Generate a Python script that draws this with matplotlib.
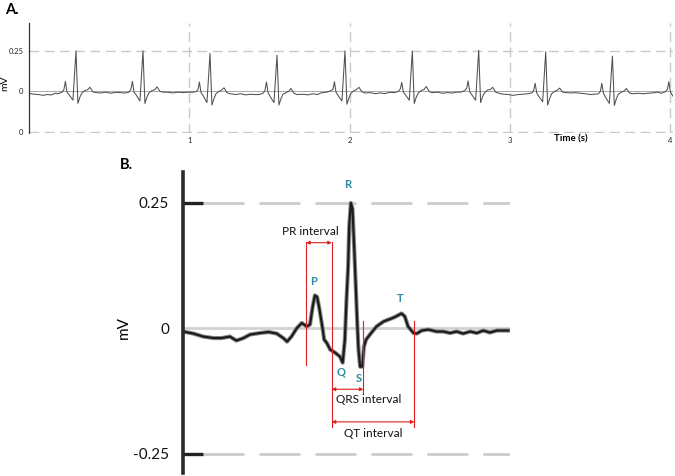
import matplotlib
matplotlib.use('Agg')
import matplotlib.pyplot as plt

plt.rcParams['font.family'] = ['Lato', 'DejaVu Sans']
plt.rcParams['lines.scale_dashes'] = False

# ---------------- Panel A data (time in s, voltage in mV) ----------------
ecg_a_time = [
    0.000, 0.030, 0.060, 0.090, 0.110, 0.140, 0.165,
    0.181, 0.206, 0.218, 0.227, 0.237, 0.249, 0.274, 0.293, 0.305, 0.318, 0.330, 0.349, 0.366, 0.380, 0.399, 0.418, 0.450, 0.480, 0.510, 0.540, 0.570,
    0.599, 0.624, 0.636, 0.645, 0.655, 0.667, 0.692, 0.711, 0.723, 0.736, 0.748, 0.767, 0.784, 0.798, 0.817, 0.836, 0.870, 0.900, 0.930, 0.960, 0.990,
    1.017, 1.042, 1.054, 1.063, 1.073, 1.085, 1.110, 1.129, 1.141, 1.154, 1.166, 1.185, 1.202, 1.216, 1.235, 1.254, 1.290, 1.320, 1.350, 1.380, 1.410,
    1.435, 1.460, 1.472, 1.481, 1.491, 1.503, 1.528, 1.547, 1.559, 1.572, 1.584, 1.603, 1.620, 1.634, 1.653, 1.672, 1.710, 1.740, 1.770, 1.800, 1.820,
    1.859, 1.884, 1.896, 1.905, 1.915, 1.927, 1.952, 1.971, 1.983, 1.996, 2.008, 2.027, 2.044, 2.058, 2.077, 2.096, 2.130, 2.160, 2.190, 2.220, 2.250,
    2.279, 2.304, 2.316, 2.325, 2.335, 2.347, 2.372, 2.391, 2.403, 2.416, 2.428, 2.447, 2.464, 2.478, 2.497, 2.516, 2.550, 2.580, 2.610, 2.640, 2.670,
    2.693, 2.718, 2.730, 2.739, 2.749, 2.761, 2.786, 2.805, 2.817, 2.830, 2.842, 2.861, 2.878, 2.892, 2.911, 2.930, 2.960, 2.990, 3.020, 3.050, 3.080,
    3.111, 3.136, 3.148, 3.157, 3.167, 3.179, 3.204, 3.223, 3.235, 3.248, 3.260, 3.279, 3.296, 3.310, 3.329, 3.348, 3.380, 3.410, 3.440, 3.470, 3.500,
    3.527, 3.552, 3.564, 3.573, 3.583, 3.595, 3.620, 3.639, 3.651, 3.664, 3.676, 3.695, 3.712, 3.726, 3.745, 3.764, 3.800, 3.830, 3.860, 3.890, 3.920,
    3.945, 3.970, 3.982, 3.991, 4.001, 4.017,
]
ecg_a_mv = [
    -0.012, -0.018, -0.020, -0.025, -0.020, -0.022, -0.012,
    -0.015, -0.005, 0.012, 0.062, -0.005, -0.020, -0.055, 0.252, -0.075, -0.035, -0.010, 0.005, 0.010, 0.025, -0.003, -0.008, -0.010, -0.005, -0.012, -0.006, -0.008,
    -0.010, -0.005, 0.015, 0.062, -0.005, -0.020, -0.060, 0.252, -0.075, -0.035, -0.010, 0.005, 0.010, 0.028, 0.000, -0.005, -0.006, -0.010, -0.005, -0.008, -0.005,
    -0.006, -0.002, 0.010, 0.058, -0.008, -0.025, -0.070, 0.236, -0.085, -0.045, -0.015, 0.000, 0.008, 0.022, -0.008, -0.015, -0.020, -0.015, -0.022, -0.018, -0.020,
    -0.020, -0.012, 0.005, 0.058, -0.008, -0.030, -0.070, 0.225, -0.085, -0.045, -0.018, -0.008, 0.000, 0.018, -0.012, -0.020, -0.018, -0.022, -0.015, -0.020, -0.010,
    -0.005, 0.005, 0.012, 0.060, -0.005, -0.025, -0.060, 0.252, -0.080, -0.040, -0.012, 0.005, 0.012, 0.025, -0.003, -0.010, -0.008, -0.015, -0.010, -0.014, -0.006,
    -0.008, 0.000, 0.015, 0.055, -0.005, -0.020, -0.055, 0.250, -0.075, -0.035, -0.010, 0.005, 0.012, 0.030, -0.002, -0.008, -0.005, -0.012, -0.008, -0.010, -0.005,
    -0.005, 0.005, 0.018, 0.065, -0.002, -0.020, -0.055, 0.256, -0.070, -0.030, -0.008, 0.008, 0.012, 0.025, -0.005, -0.012, -0.018, -0.020, -0.025, -0.020, -0.018,
    -0.015, -0.010, 0.005, 0.050, -0.010, -0.030, -0.065, 0.246, -0.085, -0.045, -0.015, 0.000, 0.008, 0.020, -0.005, -0.008, -0.010, -0.008, -0.012, -0.015, -0.020,
    -0.018, -0.015, 0.000, 0.050, -0.012, -0.035, -0.075, 0.219, -0.088, -0.045, -0.018, -0.005, 0.002, 0.018, -0.010, -0.015, -0.012, -0.015, -0.012, -0.010, -0.005,
    -0.012, -0.002, 0.012, 0.060, -0.005, -0.030,
]
a_xticks = [1, 2, 3, 4]
a_xticklabels = ['1', '2', '3', '4']
a_yticks = [-0.25, 0, 0.25]
a_yticklabels = ['0', '0', '0.25']

# ---------------- Panel B data (single beat) ----------------
ecg_b_time = [
    0.000, 0.019, 0.037, 0.056, 0.071, 0.086, 0.098, 0.111, 0.123, 0.141, 0.157, 0.172,
    0.184, 0.191, 0.199, 0.209, 0.218, 0.227, 0.233, 0.238, 0.242, 0.246, 0.250, 0.253,
    0.256, 0.259, 0.264, 0.270, 0.279, 0.288, 0.293, 0.297, 0.300, 0.303, 0.305, 0.308,
    0.311, 0.314, 0.317, 0.320, 0.322, 0.325, 0.329, 0.332, 0.336, 0.343, 0.355, 0.368,
    0.380, 0.389, 0.401, 0.407, 0.413, 0.423, 0.429, 0.438, 0.450, 0.465, 0.478, 0.490,
    0.502, 0.514, 0.527, 0.539, 0.551, 0.563, 0.576, 0.597,
]
ecg_b_mv = [
    -0.007, -0.011, -0.017, -0.020, -0.020, -0.017, -0.025, -0.020, -0.013, -0.010, -0.008, -0.011,
    -0.020, -0.027, -0.017, 0.000, 0.010, 0.003, 0.007, 0.043, 0.065, 0.062, 0.040, 0.020,
    0.000, -0.023, -0.030, -0.043, -0.049, -0.057, -0.069, -0.023, 0.057, 0.123, 0.203, 0.249,
    0.237, 0.163, 0.083, 0.003, -0.043, -0.077, -0.077, -0.037, -0.023, -0.013, 0.003, 0.013,
    0.018, 0.022, 0.029, 0.023, 0.003, -0.010, -0.011, -0.005, -0.003, -0.007, -0.007, -0.010,
    -0.007, -0.011, -0.007, -0.010, -0.005, -0.009, -0.005, -0.005,
]
b_yticks = [-0.25, 0, 0.25]
b_yticklabels = ['-0.25', '0', '0.25']

wave_labels = ['P', 'Q', 'R', 'S', 'T']
wave_label_time = [0.240, 0.290, 0.303, 0.322, 0.398]
wave_label_mv = [0.093, -0.087, 0.285, -0.101, 0.058]

interval_names = ['PR interval', 'QRS interval', 'QT interval']
interval_start = [0.226, 0.273, 0.273]
interval_end = [0.273, 0.331, 0.4245]
interval_arrow_mv = [0.170, -0.122, -0.187]
interval_text_time = [0.233, 0.340, 0.349]
interval_text_mv = [0.193, -0.143, -0.211]
# vertical marker lines: (time, top mV, bottom mV)
marker_time = [0.226, 0.273, 0.331, 0.4245]
marker_top = [0.171, 0.171, 0.013, 0.013]
marker_bottom = [-0.073, -0.197, -0.13, -0.197]

W, H = 675, 476
fig = plt.figure(figsize=(W / 100, H / 100), dpi=100)

# ---------------- Panel A ----------------
axA = fig.add_axes([29 / W, 1 - 132.5 / H, 644 / W, 109.5 / H])
axA.set_xlim(0, 4.017)
axA.set_ylim(-0.256, 0.425)
grid_kw = dict(color='#c9c9c9', lw=1.0, dashes=(7, 4))
for x in a_xticks:
    axA.axvline(x, **grid_kw)
axA.axhline(0.25, **grid_kw)
axA.axhline(-0.25, **grid_kw)
axA.axhline(0, color='#a8a8a8', lw=0.7)
axA.plot(ecg_a_time, ecg_a_mv, color='#505050', lw=0.75)
for s in ['top', 'right', 'bottom']:
    axA.spines[s].set_visible(False)
axA.spines['left'].set_color('#333333')
axA.spines['left'].set_linewidth(0.9)
axA.set_xticks(a_xticks)
axA.set_xticklabels(a_xticklabels)
axA.set_yticks(a_yticks)
axA.set_yticklabels(a_yticklabels)
axA.tick_params(axis='both', length=0, labelsize=5.5, colors='#222222')
axA.tick_params(axis='x', pad=3)
axA.tick_params(axis='y', pad=4)
axA.set_ylabel('mV', fontsize=7.5)
axA.yaxis.set_label_coords(-0.031, 0.45)
axA.text(0.842, -0.055, 'Time (s)', transform=axA.transAxes, fontsize=7,
         fontweight='bold', ha='center', va='center')
fig.text(5 / W, 1 - 10 / H, 'A.', fontsize=10.5, fontweight='bold', ha='left', va='center')

# ---------------- Panel B ----------------
axB = fig.add_axes([183 / W, 1 - 473 / H, 327 / W, 301 / H])
axB.set_xlim(0, 0.6)
axB.set_ylim(-0.2888, 0.3108)
for s in ['top', 'right', 'bottom']:
    axB.spines[s].set_visible(False)
axB.spines['left'].set_color('#2a2a2a')
axB.spines['left'].set_linewidth(2.6)
for y in [0.25, -0.25]:
    axB.plot([0.037, 0.6], [y, y], color='#cccccc', lw=2.0, dashes=(29.5, 10.8),
             solid_capstyle='butt')
    axB.plot([0, 0.036], [y, y], color='#222222', lw=2.4, solid_capstyle='butt')
axB.plot([0, 0.6], [0, 0], color='#d2d2d2', lw=2.0)
axB.plot(ecg_b_time, ecg_b_mv, color='#8a8a8a', lw=3.0, solid_joinstyle='round')
axB.plot(ecg_b_time, ecg_b_mv, color='#1c1c1c', lw=1.6, solid_joinstyle='round')

red = '#e0201c'
for t, top, bot in zip(marker_time, marker_top, marker_bottom):
    axB.plot([t, t], [top, bot], color=red, lw=0.8)
for name, t0, t1, ya, tx, ty in zip(interval_names, interval_start, interval_end,
                                     interval_arrow_mv, interval_text_time, interval_text_mv):
    axB.annotate('', xy=(t1, ya), xytext=(t0, ya),
                 arrowprops=dict(arrowstyle='<|-|>', color=red, lw=0.8,
                                 mutation_scale=5, shrinkA=0, shrinkB=0))
    axB.text(tx, ty, name, fontsize=8.5, ha='center', va='center', color='#111111')
for lab, t, v in zip(wave_labels, wave_label_time, wave_label_mv):
    axB.text(t, v, lab, fontsize=8, fontweight='bold', color='#2b8ba3',
             ha='center', va='center')

axB.set_xticks([])
axB.set_yticks(b_yticks)
axB.set_yticklabels(b_yticklabels)
axB.tick_params(axis='y', length=0, labelsize=11, pad=10, colors='#111111')
axB.set_ylabel('mV', fontsize=11, labelpad=6)
axB.yaxis.set_label_coords(-0.16, 0.485)
fig.text(120 / W, 1 - 165 / H, 'B.', fontsize=10.5, fontweight='bold', ha='left', va='center')

fig.savefig('out.png', dpi=100)
